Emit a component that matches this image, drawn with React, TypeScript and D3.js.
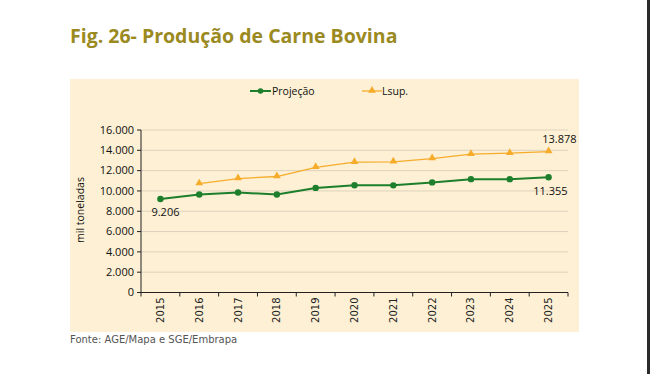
import React from "react";
import * as d3 from "d3";

const years = ["2015", "2016", "2017", "2018", "2019", "2020", "2021", "2022", "2023", "2024", "2025"];
const projecao = [9206, 9650, 9850, 9650, 10300, 10560, 10550, 10840, 11160, 11160, 11355];
const lsup: (number | null)[] = [null, 10720, 11220, 11420, 12330, 12830, 12870, 13190, 13620, 13720, 13878];
const yTicks = [0, 2000, 4000, 6000, 8000, 10000, 12000, 14000, 16000];

const W = 650;
const H = 374;
const plot = { l: 141, r: 568, t: 130, b: 292.5 };
const green = "#1d7f2b";
const orange = "#f6ac2a";
const fmt = (v: number) => d3.format(",")(v).replace(/,/g, ".");

export default function App() {
  const x = d3.scaleBand<string>().domain(years).range([plot.l, plot.r]);
  const y = d3.scaleLinear().domain([0, 16000]).range([plot.b, plot.t]);
  const cx = (yr: string) => (x(yr) ?? 0) + x.bandwidth() / 2;

  const lineP = d3
    .line<number>()
    .x((_, i) => cx(years[i]))
    .y((d) => y(d));
  const lineL = d3
    .line<number | null>()
    .defined((d) => d != null)
    .x((_, i) => cx(years[i]))
    .y((d) => y(d as number));
  const tri = d3.symbol().type(d3.symbolTriangle).size(26)();
  const last = years.length - 1;

  return (
    <svg width={W} height={H} style={{ position: "absolute", left: 0, top: 0 }} fontFamily="'Open Sans', sans-serif">
      <rect width={W} height={H} fill="#fff" />
      <rect x={647} y={0} width={3} height={H} fill="#2b2b2b" />
      <text x={70} y={43} fontSize={19.5} fontWeight={700} fill="#9b8a1f" fontFamily="'Open Sans', sans-serif">
        Fig. 26- Produção de Carne Bovina
      </text>

      {/* panel */}
      <rect x={70} y={79} width={509} height={253} fill="#fdf0d4" />

      {/* legend */}
      <g fontSize={10.5} fill="#111">
        <line x1={250} x2={271} y1={91} y2={91} stroke={green} strokeWidth={2} />
        <circle cx={260.5} cy={91} r={2.8} fill={green} />
        <text x={272} y={95}>Projeção</text>
        <line x1={362} x2={382} y1={91} y2={91} stroke={orange} strokeWidth={1.3} />
        <path d={tri ?? ""} transform="translate(372,90.5)" fill={orange} />
        <text x={382} y={95}>Lsup.</text>
      </g>

      {/* grid + y axis */}
      {yTicks.map((t) => (
        <g key={t}>
          {t > 0 && <line x1={plot.l} x2={plot.r} y1={y(t)} y2={y(t)} stroke="#ddd2bd" strokeWidth={1} />}
          <line x1={plot.l - 4} x2={plot.l} y1={y(t)} y2={y(t)} stroke="#222" />
          <text x={plot.l - 7} y={y(t)} dy="0.35em" textAnchor="end" fontSize={11} fill="#111">
            {fmt(t)}
          </text>
        </g>
      ))}
      <line x1={plot.l} x2={plot.l} y1={plot.t} y2={plot.b} stroke="#222" />
      <line x1={plot.l} x2={plot.r} y1={plot.b} y2={plot.b} stroke="#222" />
      {years.concat(["end"]).map((yr, i) => {
        const xx = plot.l + i * x.bandwidth();
        return <line key={yr} x1={xx} x2={xx} y1={plot.b} y2={plot.b + 4} stroke="#222" />;
      })}
      {years.map((yr) => (
        <text
          key={yr}
          transform={`translate(${cx(yr)},${plot.b + 5}) rotate(-90)`}
          textAnchor="end"
          dy="0.35em"
          fontSize={10}
          fontFamily="'DejaVu Sans', sans-serif"
          fill="#222"
        >
          {yr}
        </text>
      ))}
      <text transform="translate(80,210) rotate(-90)" textAnchor="middle" dy="0.35em" fontSize={10.5} fill="#111">
        mil toneladas
      </text>

      {/* series */}
      <path d={lineL(lsup) ?? ""} fill="none" stroke={orange} strokeWidth={1.3} />
      {lsup.map((v, i) =>
        v == null ? null : (
          <path key={i} d={tri ?? ""} transform={`translate(${cx(years[i])},${y(v) - 0.5})`} fill={orange} />
        )
      )}
      <path d={lineP(projecao) ?? ""} fill="none" stroke={green} strokeWidth={2} />
      {projecao.map((v, i) => (
        <circle key={i} cx={cx(years[i])} cy={y(v)} r={3.2} fill={green} />
      ))}

      {/* labels */}
      <g fontSize={11} fill="#111">
        <text x={cx(years[0]) - 9} y={y(projecao[0]) + 17}>{fmt(projecao[0])}</text>
        <text x={cx(years[last]) + 19} y={y(projecao[last]) + 18} textAnchor="end">{fmt(projecao[last])}</text>
        <text x={cx(years[last]) + 28} y={y(lsup[last] as number) - 9} textAnchor="end">{fmt(lsup[last] as number)}</text>
      </g>

      <text x={70} y={343} fontSize={10} fill="#555" fontFamily="'DejaVu Sans', sans-serif">
        Fonte: AGE/Mapa e SGE/Embrapa
      </text>
    </svg>
  );
}
